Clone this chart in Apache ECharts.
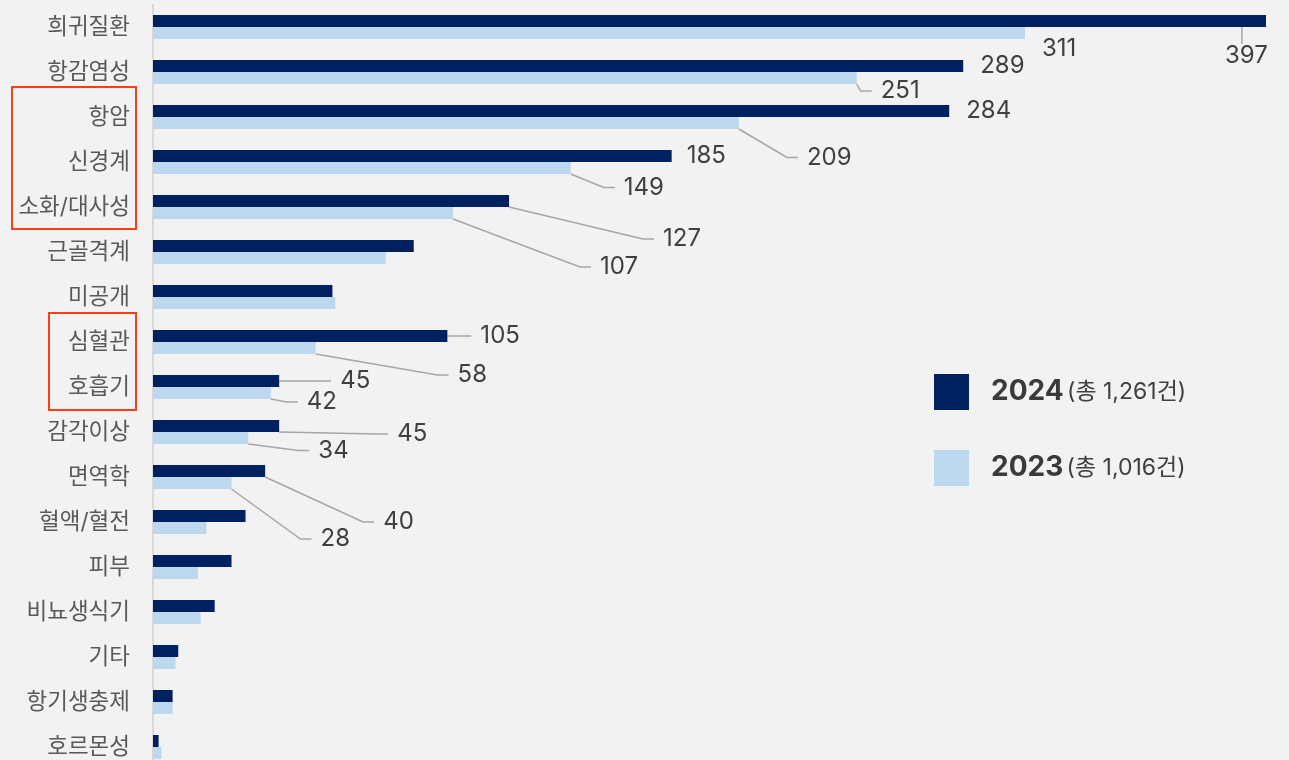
<!DOCTYPE html>
<html>
<head>
<meta charset="utf-8">
<script src="https://cdn.jsdelivr.net/npm/echarts@6/dist/echarts.min.js"></script>
<style>
html,body{margin:0;padding:0;background:#f2f2f2;}
#chart{width:1289px;height:760px;}
</style>
</head>
<body>
<div id="chart"></div>
<script>
const categories = ['희귀질환','항감염성','항암','신경계','소화/대사성','근골격계','미공개','심혈관','호흡기','감각이상','면역학','혈액/혈전','피부','비뇨생식기','기타','항기생충제','호르몬성'];
const seriesNames = ['2024', '2023'];
const totals = ['1,261', '1,016'];
const values2024 = [397, 289, 284, 185, 127, 93, 64, 105, 45, 45, 40, 33, 28, 22, 9, 7, 2];
const values2023 = [311, 251, 209, 149, 107, 83, 65, 58, 42, 34, 28, 19, 16, 17, 8, 7, 3];

// label placement (offset from default right-of-bar position) and whether a leader line is drawn
const labelOffsets = [
  {0:[-58,35], 1:[0,0], 2:[0,0], 3:[-2,0], 4:[137,38], 7:[16,0], 8:[44,0], 9:[101,8], 10:[101,51]},
  {0:[0,16], 1:[7,13], 2:[51,34.5], 3:[36,19.5], 4:[130,54], 7:[125,27], 8:[19,9], 9:[53,12.5], 10:[72,56]}
];
const noLeader = [[1,2,3],[0]];

const colors = ['#002060', '#BDD7EE'];
const FONT = 'Inter, "Noto Sans CJK KR", sans-serif';

function buildData(values, s) {
  return values.map((v, i) => {
    const hasLabel = labelOffsets[s][i] !== undefined;
    return {
      value: v,
      label: { show: hasLabel },
      labelLine: { show: hasLabel && noLeader[s].indexOf(i) < 0 }
    };
  });
}

const chart = echarts.init(document.getElementById('chart'), null, {renderer: 'canvas'});

const seriesCommon = {
  type: 'bar',
  barWidth: 12,
  barGap: '0%',
  label: {
    position: 'right',
    distance: 8,
    color: '#404040',
    fontSize: 24,
    fontFamily: FONT,
    backgroundColor: 'rgba(242,242,242,0)',
    padding: [0, 0, 0, 9]
  },
  labelLine: {
    length2: 11,
    smooth: false,
    lineStyle: { color: '#a6a6a6', width: 1.5 }
  },
  labelLayout: function (p) {
    const off = labelOffsets[p.seriesIndex][p.dataIndex];
    if (!off) return {};
    return {
      x: p.rect.x + p.rect.width + 8 + off[0],
      y: p.rect.y + p.rect.height / 2 + off[1],
      align: 'left',
      verticalAlign: 'middle'
    };
  }
};

const option = {
  backgroundColor: '#f2f2f2',
  animation: false,
  grid: { left: 153, right: 23, top: 4.5, height: 765, containLabel: false, outerBoundsMode: 'none' },
  legend: {
    orient: 'vertical',
    left: 934,
    top: 374,
    padding: 0,
    itemWidth: 35,
    itemHeight: 36,
    itemGap: 40,
    icon: 'rect',
    data: seriesNames,
    formatter: function (name) {
      const i = seriesNames.indexOf(name);
      return '{b|' + name + '} {n|(총 ' + totals[i] + '건)}';
    },
    textStyle: {
      padding: [0, 0, 0, 17],
      rich: {
        b: { fontSize: 28, fontWeight: 'bold', color: '#3a3a3a', fontFamily: FONT },
        n: { fontSize: 23, color: '#404040', fontFamily: FONT }
      }
    }
  },
  xAxis: {
    type: 'value',
    min: 0,
    max: 397,
    show: false,
    splitLine: { show: false }
  },
  yAxis: {
    type: 'category',
    data: categories,
    inverse: true,
    axisTick: { show: false },
    axisLine: { show: true, lineStyle: { color: '#d9d9d9', width: 2 } },
    axisLabel: { color: '#595959', fontSize: 22.5, margin: 23, fontFamily: FONT }
  },
  series: [
    Object.assign({}, seriesCommon, { name: seriesNames[0], itemStyle: { color: colors[0] }, data: buildData(values2024, 0) }),
    Object.assign({}, seriesCommon, { name: seriesNames[1], itemStyle: { color: colors[1] }, data: buildData(values2023, 1) })
  ],
  graphic: [
    { type: 'rect', shape: { x: 12, y: 87, width: 124, height: 142 }, style: { fill: 'none', stroke: '#ff3d16', lineWidth: 2 } },
    { type: 'rect', shape: { x: 49, y: 313, width: 87, height: 97 }, style: { fill: 'none', stroke: '#ff3d16', lineWidth: 2 } }
  ]
};
chart.setOption(option);
</script>
</body>
</html>
